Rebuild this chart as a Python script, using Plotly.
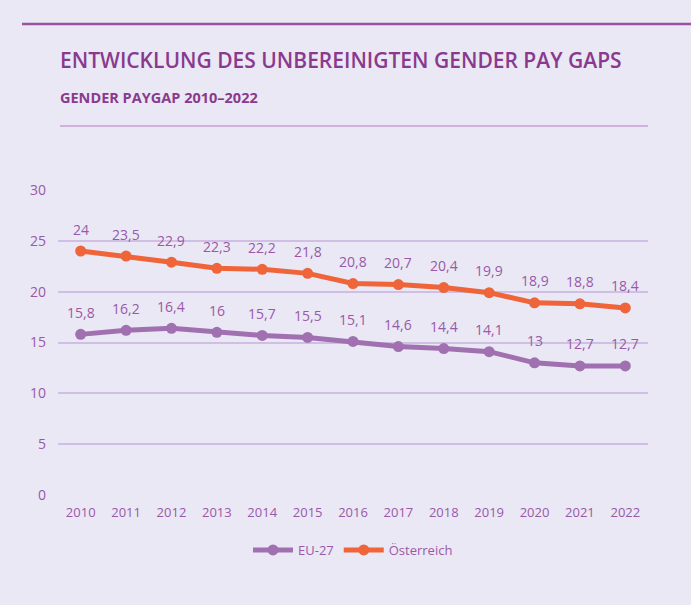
import plotly.graph_objects as go

years = ["2010", "2011", "2012", "2013", "2014", "2015", "2016", "2017", "2018", "2019", "2020", "2021", "2022"]
eu27 = [15.8, 16.2, 16.4, 16.0, 15.7, 15.5, 15.1, 14.6, 14.4, 14.1, 13.0, 12.7, 12.7]
austria = [24.0, 23.5, 22.9, 22.3, 22.2, 21.8, 20.8, 20.7, 20.4, 19.9, 18.9, 18.8, 18.4]
y_ticks = [0, 5, 10, 15, 20, 25, 30]

BG = "#e9e8f4"
PURPLE = "#a070b0"
ORANGE = "#f0643a"
TEXT = "#9a58a8"
TITLE = "#8a3a8e"
GRID = "#d0bfe3"
FONT = "Open Sans"

W, H = 691, 605
L, R, T, B = 58, 648, 190, 495
PW, PH = R - L, B - T


def fmt(v):
    return ("%g" % v).replace(".", ",")


def px(xpix):
    return (xpix - L) / PW


def py(ypix):
    return (B - ypix) / PH


fig = go.Figure()
fig.add_trace(go.Scatter(x=years, y=eu27, mode="lines+markers", name="EU-27",
                         line=dict(color=PURPLE, width=5), marker=dict(size=11, color=PURPLE)))
fig.add_trace(go.Scatter(x=years, y=austria, mode="lines+markers", name="Österreich",
                         line=dict(color=ORANGE, width=5), marker=dict(size=11, color=ORANGE)))

for series in (eu27, austria):
    for i, v in enumerate(series):
        fig.add_annotation(x=i, y=v, xref="x", yref="y", text=fmt(v), showarrow=False,
                           yshift=22, font=dict(family=FONT, size=14, color=TEXT))

fig.update_layout(
    width=W, height=H,
    paper_bgcolor=BG, plot_bgcolor=BG,
    margin=dict(l=L, r=W - R, t=T, b=H - B),
    font=dict(family=FONT, color=TEXT, size=13),
    showlegend=True,
    legend=dict(orientation="h", x=0.5, xanchor="center", y=py(550), yanchor="middle",
                font=dict(family=FONT, size=13, color=TEXT), bgcolor="rgba(0,0,0,0)",
                itemwidth=40),
    xaxis=dict(type="category", range=[-0.5, 12.5], showgrid=False, zeroline=False,
               showline=False, ticks="", tickfont=dict(size=13, color=TEXT), ticklabelstandoff=8),
    yaxis=dict(range=[0, 30], tickvals=y_ticks, showgrid=True, gridcolor=GRID, gridwidth=2,
               zeroline=False, showline=False, ticks="", tickfont=dict(size=14, color=TEXT),
               ticklabelstandoff=11),
    shapes=[
        dict(type="line", xref="paper", yref="paper", x0=px(22), x1=px(W), y0=py(24), y1=py(24),
             line=dict(color="#9b52a0", width=2.5)),
        dict(type="line", xref="paper", yref="paper", x0=px(60), x1=px(R), y0=py(126), y1=py(126),
             line=dict(color="#b47cc4", width=1)),
    ],
)

fig.add_annotation(text="ENTWICKLUNG DES UNBEREINIGTEN GENDER PAY GAPS", xref="paper", yref="paper",
                   x=px(58), y=py(60), xanchor="left", yanchor="middle", showarrow=False,
                   font=dict(family=FONT, size=21, weight=600, color=TITLE))
fig.add_annotation(text="GENDER PAYGAP 2010–2022", xref="paper", yref="paper",
                   x=px(58), y=py(98), xanchor="left", yanchor="middle", showarrow=False,
                   font=dict(family=FONT, size=14.5, weight=700, color=TITLE))

fig.write_html("out.html", config={"displayModeBar": False},
               post_script="document.body.style.margin='0';")
